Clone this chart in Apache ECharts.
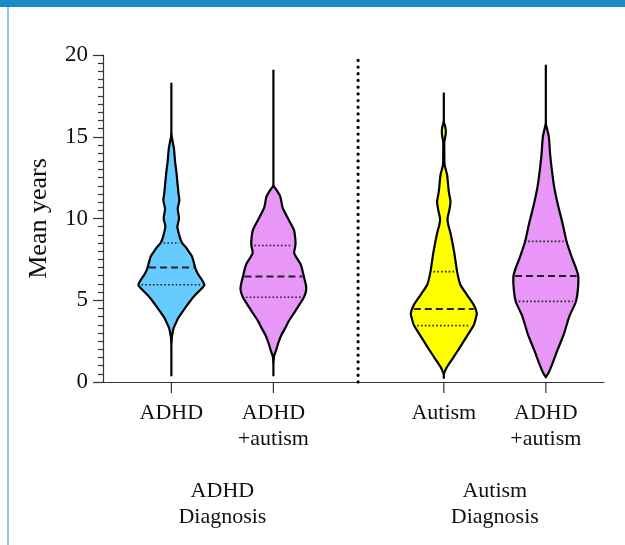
<!DOCTYPE html>
<html><head><meta charset="utf-8">
<script src="https://cdn.jsdelivr.net/npm/echarts@6/dist/echarts.min.js"></script>
<style>html,body{margin:0;padding:0;background:#fff}#c{width:625px;height:545px}</style>
</head><body><div id="c"></div>
<script>
// ---- data ----
const categories = ['ADHD', 'ADHD\n+autism', 'Autism', 'ADHD\n+autism'];
const groupLabels = ['ADHD\nDiagnosis', 'Autism\nDiagnosis'];
const slotPositions = [0, 1, 2.67, 3.67];
const groupPositions = [0.5, 3.17];
const separatorPosition = 1.83;
const yTickValues = [0, 5, 10, 15, 20];

const medians = [7.0, 6.45, 4.46, 6.48];
const quartile1 = [5.95, 5.18, 3.45, 4.93];
const quartile3 = [8.5, 8.35, 6.75, 8.6];
const minimums = [0.35, 0.35, 0.2, 0.3];
const maximums = [18.3, 19.1, 17.7, 19.4];

// density profiles (level in years, relative density)
const adhdLevels   = [15.1, 14.3, 13.5, 12.7, 11.6, 11.1, 10.6, 10.0, 9.5, 8.8, 8.5, 8.2, 7.97, 7.7, 7.3, 6.95, 6.6, 6.2, 5.93, 5.7, 5.4, 5.12, 4.8, 4.5, 4.2, 3.9, 3.6, 3.3, 2.87, 2.5];
const adhdDensity  = [0, 2.5, 3.7, 5.3, 7, 8, 6.3, 7.7, 6, 8.7, 10.8, 15, 17.5, 20.5, 22.5, 24, 26.7, 31, 33, 30, 25, 21, 17, 13.5, 10, 6.7, 4.5, 2.3, 0.8, 0];

const adhdAutLevels  = [12.0, 11.8, 11.33, 10.7, 10.3, 9.9, 9.3, 8.7, 8.35, 7.87, 7.26, 6.95, 6.44, 5.93, 5.63, 5.18, 4.4, 3.69, 3.38, 2.87, 2.37, 2.0, 1.6, 1.3];
const adhdAutDensity = [0, 2.5, 7, 9, 12, 15.5, 20.5, 22, 22, 20.8, 26.7, 28.5, 30.5, 32.5, 32.8, 30.5, 22.5, 15, 12.5, 8, 4.8, 3, 0.8, 0];

const autismLevels   = [15.9, 15.6, 15.3, 15.0, 14.7, 14.1, 13.3, 12.66, 11.64, 11.03, 10.5, 10.0, 9.6, 9.2, 7.97, 6.75, 5.93, 5.32, 4.71, 4.2, 3.9, 3.49, 2.67, 1.85, 1.24, 0.84, 0.5];
const autismDensity  = [0, 1.5, 2, 1.5, 0.5, 0.5, 0.8, 3.3, 5, 6.7, 5.5, 3.7, 4.5, 6.3, 10.3, 13.3, 16.7, 23.3, 30, 33, 32, 30, 21.7, 13.3, 6.7, 2.5, 0];

const autAdhdLevels  = [15.8, 15.0, 14.0, 12.97, 11.95, 10.93, 9.7, 8.58, 7.66, 6.85, 6.44, 5.63, 4.91, 3.99, 2.98, 1.96, 1.14, 0.53, 0.3];
const autAdhdDensity = [0, 3, 4.2, 6, 8.3, 11.7, 16.7, 20.8, 25.8, 30.8, 32.5, 32, 30, 23.3, 18.3, 11.7, 6.7, 2.5, 0];

const violinLevels = [adhdLevels, adhdAutLevels, autismLevels, autAdhdLevels];
const violinDensity = [adhdDensity, adhdAutDensity, autismDensity, autAdhdDensity];
const violinColors = ['#66ccff', '#e896f8', '#ffff00', '#e896f8'];

// ---- rendering ----
const DENS = 1 / 102; // x-units per density unit
const FONT = '"Liberation Serif", "Times New Roman", serif';

function densityAt(levels, dens, v) {
  for (let k = 0; k < levels.length - 1; k++) {
    if (v <= levels[k] && v >= levels[k + 1]) {
      const t = (levels[k] - v) / (levels[k] - levels[k + 1]);
      return dens[k] + t * (dens[k + 1] - dens[k]);
    }
  }
  return 0;
}

function hLine(api, cx, v, half, style) {
  const a = api.coord([cx - half, v]);
  const b = api.coord([cx + half, v]);
  return { type: 'line', shape: { x1: a[0], y1: a[1], x2: b[0], y2: b[1] }, style: style, z2: 5 };
}

function renderViolin(params, api) {
  const i = params.dataIndex;
  const cx = slotPositions[i];
  const lv = violinLevels[i], dv = violinDensity[i];
  const right = [], left = [];
  for (let k = 0; k < lv.length; k++) {
    right.push(api.coord([cx + dv[k] * DENS, lv[k]]));
    left.push(api.coord([cx - dv[k] * DENS, lv[k]]));
  }
  const pts = right.concat(left.reverse());
  const top = api.coord([cx, maximums[i]]);
  const bot = api.coord([cx, minimums[i]]);
  const medHalf = Math.max(0, densityAt(lv, dv, medians[i]) - 1.5) * DENS;
  const q1Half = Math.max(0, densityAt(lv, dv, quartile1[i]) - 3) * DENS;
  const q3Half = Math.max(0, densityAt(lv, dv, quartile3[i]) - 3) * DENS;
  return {
    type: 'group',
    children: [
      { type: 'line', shape: { x1: top[0], y1: top[1], x2: bot[0], y2: bot[1] }, style: { stroke: '#000', lineWidth: 2.2 }, z2: 1 },
      { type: 'polygon', shape: { points: pts, smooth: 0.2 }, style: { fill: violinColors[i], stroke: '#000', lineWidth: 2.2 }, z2: 2 },
      hLine(api, cx, medians[i], medHalf, { stroke: '#222', lineWidth: 2, lineDash: [7, 4] }),
      hLine(api, cx, quartile1[i], q1Half, { stroke: '#222', lineWidth: 1.6, lineDash: [1.6, 2.2] }),
      hLine(api, cx, quartile3[i], q3Half, { stroke: '#222', lineWidth: 1.6, lineDash: [1.6, 2.2] })
    ]
  };
}

function renderCategory(params, api) {
  const i = params.dataIndex;
  const p = api.coord([slotPositions[i], 0]);
  return {
    type: 'group',
    children: [
      { type: 'line', shape: { x1: p[0], y1: p[1], x2: p[0], y2: p[1] + 11 }, style: { stroke: '#333', lineWidth: 1.2 } },
      { type: 'text', x: p[0], y: p[1] + 18, style: { text: categories[i], font: '22px ' + FONT, fill: '#111', align: 'center', verticalAlign: 'top', lineHeight: 26 } }
    ]
  };
}

function renderGroup(params, api) {
  const i = params.dataIndex;
  const p = api.coord([groupPositions[i], 0]);
  return { type: 'text', x: p[0], y: p[1] + 96, style: { text: groupLabels[i], font: '22px ' + FONT, fill: '#111', align: 'center', verticalAlign: 'top', lineHeight: 26 } };
}

function renderSeparator(params, api) {
  const a = api.coord([separatorPosition, 0]);
  const b = api.coord([separatorPosition, 20]);
  return { type: 'line', shape: { x1: a[0], y1: a[1], x2: b[0], y2: b[1] }, style: { stroke: '#000', lineWidth: 3.2, lineDash: [0.1, 6.6], lineCap: 'round' } };
}

const chart = echarts.init(document.getElementById('c'), null, { renderer: 'canvas' });
chart.setOption({
  animation: false,
  backgroundColor: '#fff',
  graphic: [
    { type: 'rect', left: 0, top: 0, shape: { width: 625, height: 7 }, style: { fill: '#1b8ac5' } },
    { type: 'rect', left: 7, top: 7, shape: { width: 2, height: 538 }, style: { fill: '#8fc3e3' } }
  ],
  grid: { left: 103, right: 21, top: 55, bottom: 163, containLabel: false },
  xAxis: {
    type: 'value', min: -0.67, max: 4.24,
    axisLine: { show: true, onZero: false, lineStyle: { color: '#333', width: 1.2 } },
    axisTick: { show: false }, axisLabel: { show: false }, splitLine: { show: false }
  },
  yAxis: {
    type: 'value', min: yTickValues[0], max: yTickValues[yTickValues.length - 1], interval: 5,
    name: 'Mean years', nameLocation: 'middle', nameGap: 51,
    nameTextStyle: { fontSize: 26, fontFamily: FONT, color: '#111' },
    axisLine: { show: true, onZero: false, lineStyle: { color: '#333', width: 1.2 } },
    axisTick: { show: true, length: 10, lineStyle: { color: '#333', width: 1.2 } },
    minorTick: { show: true, splitNumber: 10, length: 5, lineStyle: { color: '#333', width: 1.2 } },
    axisLabel: { fontSize: 23, fontFamily: FONT, color: '#111', margin: 15 },
    splitLine: { show: false }, minorSplitLine: { show: false }
  },
  series: [
    { type: 'custom', renderItem: renderSeparator, data: [[separatorPosition, 0]], silent: true, clip: false },
    { type: 'custom', renderItem: renderViolin, data: slotPositions.map((x, i) => [x, medians[i]]), silent: true, clip: false },
    { type: 'custom', renderItem: renderCategory, data: slotPositions.map(x => [x, 0]), silent: true, clip: false },
    { type: 'custom', renderItem: renderGroup, data: groupPositions.map(x => [x, 0]), silent: true, clip: false }
  ]
});
</script></body></html>
